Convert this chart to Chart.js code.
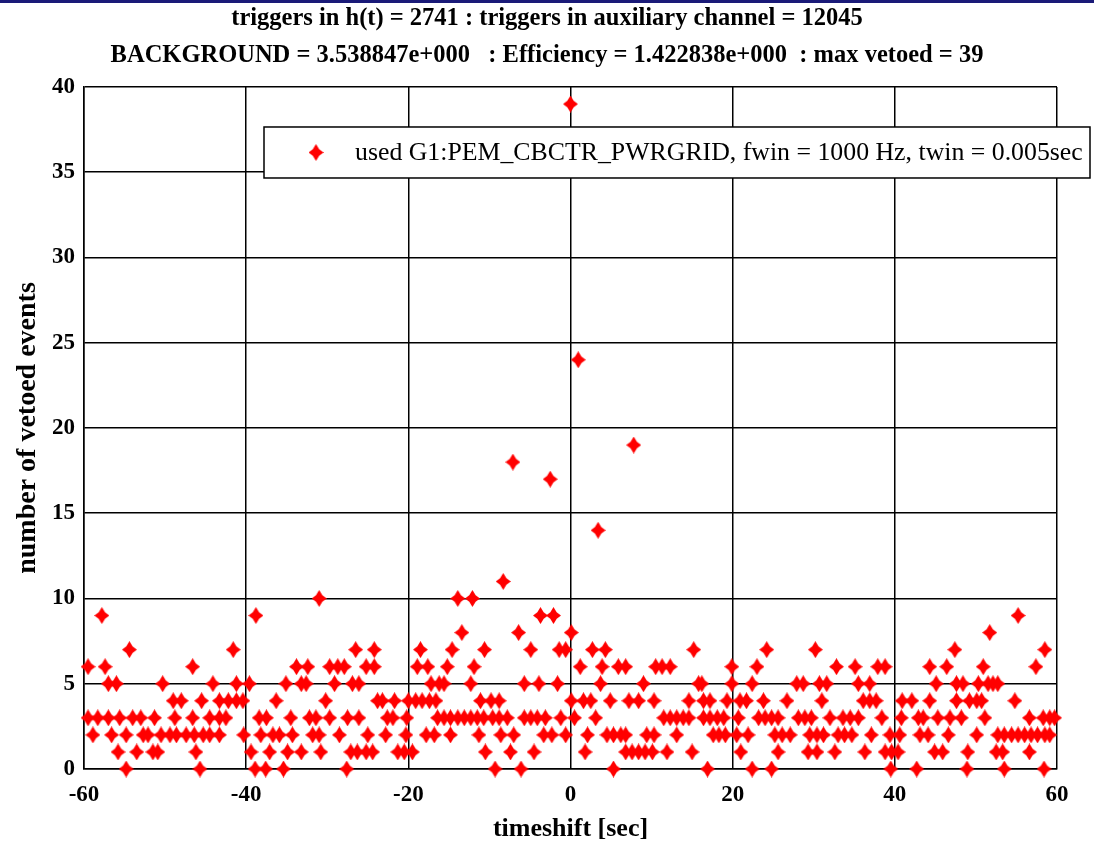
<!DOCTYPE html>
<html>
<head>
<meta charset="utf-8">
<script src="https://cdn.jsdelivr.net/npm/chart.js@4.4.1/dist/chart.umd.min.js"></script>
<style>
  html, body { margin: 0; padding: 0; background: #fff; }
  #wrap { position: relative; width: 1094px; height: 845px; }
  #topbar { position: absolute; left: 0; top: 0; width: 1094px; height: 3px; background: #1a1a78; }
</style>
</head>
<body>
<div id="wrap">
  <canvas id="chart" width="1094" height="845"></canvas>
  <div id="topbar"></div>
</div>
<script>
// timeshift [sec] of each point, grouped by number of vetoed events
const shiftsAt0 = [-54.8, -45.7, -38.9, -37.6, -35.4, -27.6, -9.3, -6.1, 5.3, 16.9, 22.4, 24.8, 39.5, 42.7, 48.9, 53.5, 58.4];
const shiftsAt1 = [-55.8, -53.5, -51.5, -50.9, -46.2, -39.4, -37.1, -34.9, -33.2, -30.8, -27.1, -26.3, -25.2, -24.4, -21.3, -20.5,
  -19.5, -10.5, -7.4, -4.5, 1.8, 6.8, 7.6, 8.4, 9.2, 10.1, 11.9, 15.0, 21.0, 25.6, 29.3, 30.4, 32.6, 36.3, 38.8, 39.6, 40.4,
  44.9, 45.9, 49.0, 52.5, 53.3, 56.6];
const shiftsAt2 = [-58.9, -56.6, -54.8, -52.7, -52.1, -50.5, -49.4, -48.6, -47.4, -46.4, -45.3, -44.5, -43.3, -40.3, -38.2,
  -36.7, -35.9, -34.3, -31.8, -31.0, -28.5, -25.0, -22.8, -20.3, -17.8, -16.8, -14.8, -11.3, -8.6, -7.0, -3.3, -2.3, -0.6,
  2.1, 4.5, 5.3, 6.2, 6.8, 9.4, 10.3, 13.1, 17.6, 18.3, 19.1, 20.5, 21.9, 25.2, 26.1, 27.1, 29.5, 30.4, 31.2, 33.0, 33.8,
  34.7, 37.1, 39.4, 40.6, 43.1, 44.1, 46.6, 50.1, 52.7, 53.5, 54.4, 55.2, 56.0, 56.8, 57.6, 58.5, 59.1];
const shiftsAt3 = [-59.5, -58.3, -57.0, -55.6, -54.0, -53.0, -51.3, -48.8, -46.6, -44.5, -43.3, -42.5, -38.4, -37.5, -34.5,
  -32.2, -31.4, -29.7, -27.5, -26.1, -22.6, -21.9, -20.2, -16.4, -15.6, -14.8, -13.9, -13.1, -12.3, -11.5, -10.7, -9.6, -8.8,
  -7.8, -5.7, -4.9, -4.1, -3.1, -1.2, 0.5, 3.1, 11.5, 12.3, 13.1, 13.9, 14.6, 16.4, 17.2, 18.1, 18.9, 20.7, 23.2, 24.0, 24.8,
  25.6, 28.1, 28.9, 29.7, 32.0, 33.6, 34.5, 35.5, 38.4, 40.8, 42.9, 43.5, 45.3, 46.8, 48.2, 51.1, 56.6, 58.3, 59.1, 59.7];
const shiftsAt4 = [-49.0, -48.0, -45.5, -43.3, -42.2, -41.2, -40.4, -36.3, -30.2, -23.8, -23.2, -21.7, -20.0, -19.1, -18.3,
  -17.4, -16.6, -11.1, -9.8, -8.8, 0.1, 1.6, 2.5, 4.9, 7.2, 8.4, 10.3, 14.6, 16.4, 17.2, 19.3, 20.9, 21.7, 23.8, 26.7, 31.0,
  36.1, 36.9, 37.7, 40.9, 42.1, 44.3, 47.6, 49.2, 50.1, 50.7, 54.8];
const shiftsAt5 = [-57.0, -56.0, -50.3, -44.1, -41.2, -39.6, -35.1, -33.2, -32.6, -29.1, -26.9, -26.1, -17.2, -16.2, -15.6,
  -12.3, -5.7, -3.9, -1.6, 3.7, 9.0, 15.8, 16.2, 19.9, 22.4, 27.9, 28.7, 30.7, 31.6, 35.5, 36.9, 45.1, 47.6, 48.4, 50.3,
  51.5, 52.1, 52.7];
const shiftsAt6 = [-59.5, -57.4, -46.6, -33.8, -32.4, -29.7, -28.7, -27.9, -25.2, -24.2, -18.9, -17.6, -15.2, -11.9, 1.2,
  3.9, 5.9, 6.8, 10.5, 11.3, 12.3, 19.9, 23.0, 32.8, 35.1, 37.9, 38.8, 44.3, 46.4, 50.9, 57.4];
const shiftsAt7 = [-54.4, -41.6, -26.5, -24.2, -18.5, -14.6, -10.6, -4.9, -1.4, -0.6, 2.7, 4.3, 15.2, 24.2, 30.2, 47.4, 58.5];
const shiftsAt8 = [-13.4, -6.4, 0.1, 51.7];
const shiftsAt9 = [-57.8, -38.8, -3.7, -2.1, 55.2];
const shiftsAt10 = [-31.0, -13.9, -12.1];

// the few isolated high points near zero shift
const peakShifts = [-8.3, 3.4, -2.5, -7.1, 7.8, 0.95, 0.0];
const peakCounts = [11, 14, 17, 18, 19, 24, 39];

const xTicks = [-60, -40, -20, 0, 20, 40, 60];
const yTicks = [0, 5, 10, 15, 20, 25, 30, 35, 40];

const titleLines = [
  'triggers in h(t) = 2741 : triggers in auxiliary channel = 12045',
  'BACKGROUND = 3.538847e+000   : Efficiency = 1.422838e+000  : max vetoed = 39'
];
const seriesLabel = 'used G1:PEM_CBCTR_PWRGRID, fwin = 1000 Hz, twin = 0.005sec';

const byCount = [shiftsAt0, shiftsAt1, shiftsAt2, shiftsAt3, shiftsAt4, shiftsAt5,
  shiftsAt6, shiftsAt7, shiftsAt8, shiftsAt9, shiftsAt10];

const points = [];
byCount.forEach((xs, count) => xs.forEach(x => points.push({ x: x, y: count })));
peakShifts.forEach((x, i) => points.push({ x: x, y: peakCounts[i] }));

// red four-pointed star marker
function makeMarker(w, h, color) {
  const c = document.createElement('canvas');
  c.width = w;
  c.height = h;
  const g = c.getContext('2d');
  const cx = w / 2, cy = h / 2, ix = 3.2, iy = 3.2;
  g.fillStyle = color;
  g.beginPath();
  g.moveTo(cx, 0);
  g.lineTo(cx + ix, cy - iy);
  g.lineTo(w, cy);
  g.lineTo(cx + ix, cy + iy);
  g.lineTo(cx, h);
  g.lineTo(cx - ix, cy + iy);
  g.lineTo(0, cy);
  g.lineTo(cx - ix, cy - iy);
  g.closePath();
  g.fill();
  return c;
}
const marker = makeMarker(15, 17, '#ff0000');

const SERIF = '"Liberation Serif", "Times New Roman", serif';

// legend box drawn inside the plot, sticking out to the right like the original
const boxLegend = {
  id: 'boxLegend',
  afterDraw(chart) {
    const { ctx, chartArea } = chart;
    const left = chartArea.left + 180;
    const top = chartArea.top + 40;
    const width = 826, height = 51;
    ctx.save();
    ctx.fillStyle = '#fff';
    ctx.strokeStyle = '#000';
    ctx.lineWidth = 1.5;
    ctx.fillRect(left, top, width, height);
    ctx.strokeRect(left, top, width, height);
    ctx.drawImage(marker, left + 52 - marker.width / 2, top + height / 2 - marker.height / 2);
    ctx.fillStyle = '#000';
    ctx.font = '25.8px ' + SERIF;
    ctx.textBaseline = 'middle';
    ctx.fillText(chart.data.datasets[0].label, left + 91, top + height / 2 + 1);
    ctx.restore();
  }
};

new Chart(document.getElementById('chart'), {
  type: 'scatter',
  data: {
    datasets: [{
      label: seriesLabel,
      data: points,
      pointStyle: marker,
      pointRadius: 7,
      backgroundColor: '#ff0000',
      borderColor: '#ff0000',
      clip: false
    }]
  },
  options: {
    responsive: false,
    animation: false,
    layout: { padding: 0 },
    scales: {
      x: {
        type: 'linear',
        min: -60,
        max: 60,
        afterBuildTicks: s => { s.ticks = xTicks.map(v => ({ value: v })); },
        afterFit: s => { s.height = 76; },
        ticks: { color: '#000', padding: 12, font: { family: SERIF, weight: 'bold', size: 23 } },
        grid: { color: '#000', lineWidth: 1.5, drawTicks: false },
        border: { color: '#000', width: 1.5 },
        title: {
          display: true,
          text: 'timeshift [sec]',
          color: '#000',
          font: { family: SERIF, weight: 'bold', size: 26 },
          padding: { top: 0, bottom: 0 }
        }
      },
      y: {
        min: 0,
        max: 40,
        afterBuildTicks: s => { s.ticks = yTicks.map(v => ({ value: v })); },
        afterFit: s => { s.width = 84; },
        ticks: { color: '#000', padding: 9, font: { family: SERIF, weight: 'bold', size: 23 } },
        grid: { color: '#000', lineWidth: 1.5, drawTicks: false },
        border: { color: '#000', width: 1.5 },
        title: {
          display: true,
          text: 'number of vetoed events',
          color: '#000',
          font: { family: SERIF, weight: 'bold', size: 28 },
          padding: { top: 11, bottom: 0 }
        }
      },
      // empty right-hand strip so the titles stay centred on the whole page
      yRight: {
        position: 'right',
        min: 0,
        max: 40,
        afterFit: s => { s.width = 37; },
        ticks: { display: false },
        grid: { display: false, drawTicks: false },
        border: { display: false }
      }
    },
    plugins: {
      legend: { display: false },
      tooltip: { enabled: false },
      title: {
        display: true,
        text: titleLines,
        color: '#000',
        font: { family: SERIF, weight: 'bold', size: 24.5, lineHeight: 1.51 },
        padding: { top: 0, bottom: 13 }
      }
    }
  },
  plugins: [boxLegend]
});
</script>
</body>
</html>
